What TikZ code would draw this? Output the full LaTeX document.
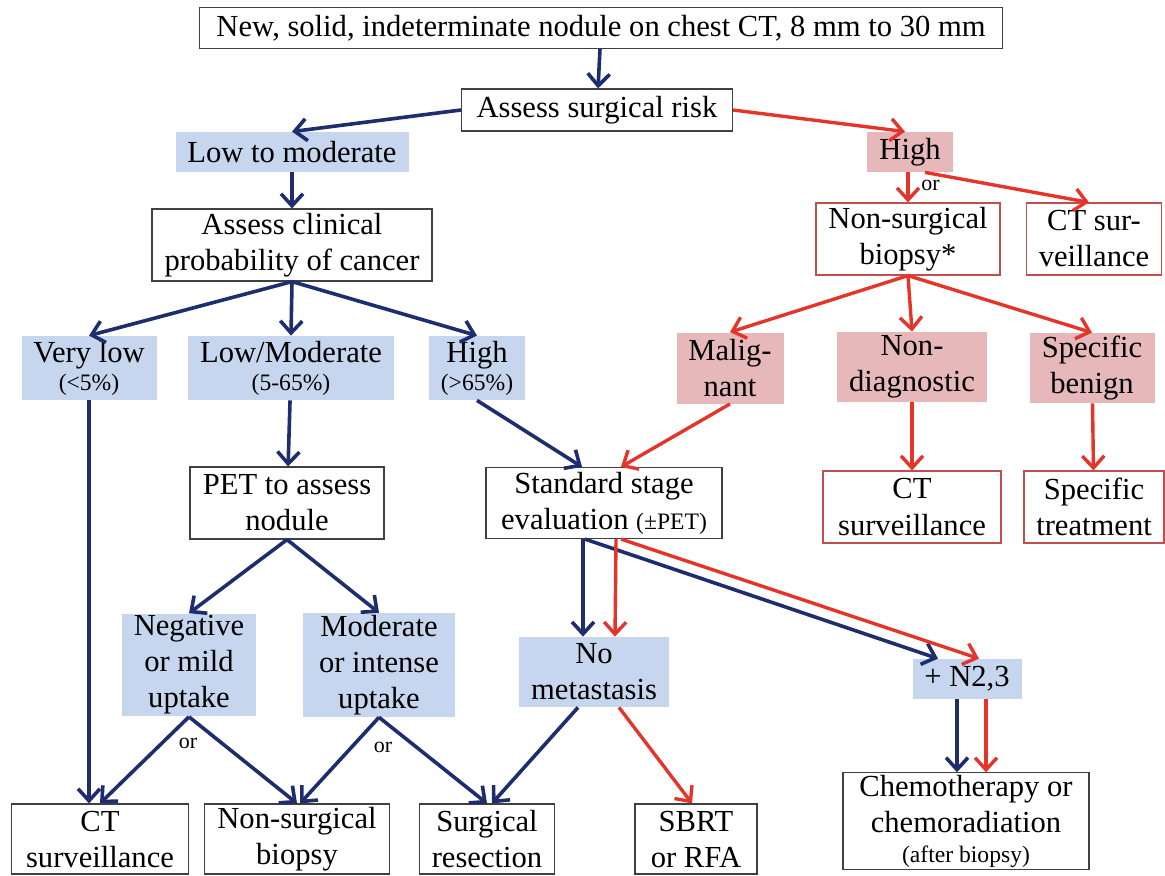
\documentclass[tikz,border=0pt]{standalone}
\usepackage{fontspec}
\setmainfont{Liberation Serif}
\usetikzlibrary{positioning, arrows.meta, calc}
\definecolor{navyarr}{HTML}{1E2D6E}
\definecolor{redarr}{HTML}{E5352A}
\definecolor{bluefill}{HTML}{C6D6EE}
\definecolor{pinkfill}{HTML}{E6B8B9}
\definecolor{redborder}{HTML}{C0504D}
\newcommand{\smtxt}[1]{{\fontsize{11.8}{13}\selectfont #1}}
\tikzset{
	base/.style={align=center, inner sep=1pt, font=\rmfamily\fontsize{15.3}{18}\selectfont},
	wbox/.style={base, draw=black!75, line width=0.6pt, fill=white},
	rbox/.style={base, draw=redborder, line width=0.6pt, fill=white},
	bfill/.style={base, fill=bluefill},
	pfill/.style={base, fill=pinkfill},
	barr/.style={draw=navyarr, line width=1.8pt, -{Straight Barb[length=6pt,width=11pt]}},
	rarr/.style={draw=redarr, line width=1.7pt, -{Straight Barb[length=6pt,width=11pt]}},
	ortxt/.style={font=\rmfamily\fontsize{11}{12}\selectfont, inner sep=0pt}
}
\begin{document}
\begin{tikzpicture}[x=0.5pt, y=-0.5pt]
		\useasboundingbox (0,0) rectangle (1165,875);
		% top of the tree
		\node[wbox, minimum width=401.5pt, minimum height=20.5pt] (nodule) at (601,28) {New, solid, indeterminate nodule on chest CT, 8 mm to 30 mm};
		\node[wbox, minimum width=135.5pt, minimum height=21pt] (surgrisk) at (597,110) {Assess surgical risk};
		\node[bfill, minimum width=116.5pt, minimum height=20pt] (lowrisk) at (292,152) {Low to moderate};
		\node[pfill, minimum width=43pt, minimum height=20pt] (highrisk) at (910,152) {High};
		
		% low to moderate risk
		\node[wbox, minimum width=140pt, minimum height=36pt] (clinprob) at (292,245) {Assess clinical\\probability of cancer};
		\node[bfill, minimum width=67.5pt, minimum height=32pt] (verylow) at (89,368) {Very low\\[-4pt]\smtxt{(<5\%)}};
		\node[bfill, minimum width=103pt, minimum height=32pt] (lowmodp) at (291,368) {Low/Moderate\\[-4pt]\smtxt{(5-65\%)}};
		\node[bfill, minimum width=48pt, minimum height=32pt] (highp) at (477,368) {High\\[-4pt]\smtxt{(>65\%)}};
		\node[wbox, minimum width=97pt, minimum height=36pt] (pet) at (287,503) {PET to assess\\nodule};
		\node[wbox, minimum width=118pt, minimum height=35.5pt] (stage) at (604,503) {Standard stage\\evaluation \smtxt{(±PET)}};
		\node[bfill, minimum width=67pt, minimum height=50.5pt] (neguptake) at (189,665) {Negative\\or mild\\uptake};
		\node[bfill, minimum width=76pt, minimum height=50.5pt] (moduptake) at (379,665) {Moderate\\or intense\\uptake};
		\node[bfill, minimum width=75pt, minimum height=35pt] (nometa) at (594,672) {No\\metastasis};
		\node[bfill, minimum width=54.5pt, minimum height=20pt] (ntwo) at (967,679) {+ N2,3};
		
		% high risk
		\node[rbox, minimum width=92pt, minimum height=36pt] (biopsyr) at (908,239) {Non-surgical\\biopsy*};
		\node[rbox, minimum width=67.5pt, minimum height=36pt] (ctsurvr) at (1094,239) {CT sur-\\veillance};
		\node[pfill, minimum width=53.5pt, minimum height=35.5pt] (malig) at (730,368) {Malig-\\nant};
		\node[pfill, minimum width=75pt, minimum height=35pt] (nondiag) at (912,367) {Non-\\diagnostic};
		\node[pfill, minimum width=62.5pt, minimum height=35pt] (specben) at (1092,368) {Specific\\benign};
		\node[rbox, minimum width=89pt, minimum height=36pt] (ctsurvd) at (912,507) {CT\\surveillance};
		\node[rbox, minimum width=70pt, minimum height=36pt] (spectreat) at (1094,507) {Specific\\treatment};
		
		% outcomes at the bottom
		\node[wbox, minimum width=88.5pt, minimum height=35pt] (ctsurv) at (100,839) {CT\\surveillance};
		\node[wbox, minimum width=92.5pt, minimum height=35pt] (biopsy) at (297,839) {Non-surgical\\biopsy};
		\node[wbox, minimum width=67.5pt, minimum height=35pt] (resect) at (487,839) {Surgical\\resection};
		\node[wbox, minimum width=61pt, minimum height=35pt] (sbrt) at (696,839) {SBRT\\or RFA};
		\node[wbox, minimum width=123pt, minimum height=46.5pt] (chemo) at (966,821) {Chemotherapy or\\chemoradiation\\[-3pt]\smtxt{(after biopsy)}};
		
		% blue path
		\draw[barr] (nodule) -- (surgrisk);
		\draw[barr] (surgrisk.west) -- (lowrisk.north);
		\draw[barr] (lowrisk) -- (clinprob);
		\draw[barr] (clinprob.south) -- (verylow.north);
		\draw[barr] (clinprob.south) -- (lowmodp.north);
		\draw[barr] (clinprob.south) -- (highp.north);
		\draw[barr] (verylow.south) -- (verylow.south |- ctsurv.north);
		\draw[barr] (lowmodp) -- (pet);
		\draw[barr] (highp.south) -- ($(stage.north)+(-22,0)$);
		\draw[barr] (pet.south) -- (neguptake.north);
		\draw[barr] (pet.south) -- (moduptake.north);
		\draw[barr] (neguptake.south) -- (ctsurv.north);
		\draw[barr] (neguptake.south) -- (biopsy.north);
		\draw[barr] (moduptake.south) -- ($(biopsy.north)+(3,0)$);
		\draw[barr] (moduptake.south) -- (resect.north);
		\node[ortxt] (orneg) at (188,743) {or};
		\node[ortxt] (ormod) at (383,747) {or};
		\draw[barr] ($(stage.south)+(-21,0)$) -- ($(nometa.north)+(-11,0)$);
		\draw[barr] ($(stage.south)+(-19,0)$) -- ($(ntwo.north)+(-29,0)$);
		\draw[barr] ($(nometa.south)+(-16,0)$) -- ($(resect.north)+(5,0)$);
		\draw[barr] ($(ntwo.south)+(-10,0)$) -- ($(chemo.north)+(-9,0)$);
		
		% red path
		\draw[rarr] (surgrisk.east) -- ($(highrisk.north)+(-5,0)$);
		\draw[rarr] ($(highrisk.south)+(-2,0)$) -- (biopsyr.north);
		\node[ortxt, anchor=west] (orhigh) at (921,185) {or};
		\draw[rarr] ($(highrisk.south)+(15,0)$) -- ($(ctsurvr.north)+(-5,0)$);
		\draw[rarr] (biopsyr.south) -- (malig.north);
		\draw[rarr] (biopsyr.south) -- (nondiag.north);
		\draw[rarr] (biopsyr.south) -- (specben.north);
		\draw[rarr] (malig.south) -- ($(stage.north)+(17,0)$);
		\draw[rarr] (nondiag) -- (ctsurvd);
		\draw[rarr] (specben) -- (spectreat);
		\draw[rarr] ($(stage.south)+(12,0)$) -- ($(nometa.north)+(21,0)$);
		\draw[rarr] ($(stage.south)+(17,0)$) -- ($(ntwo.north)+(12,0)$);
		\draw[rarr] ($(nometa.south)+(25,0)$) -- ($(sbrt.north)+(-4,0)$);
		\draw[rarr] ($(ntwo.south)+(19,0)$) -- ($(chemo.north)+(20,0)$);
	\end{tikzpicture}
\end{document}
